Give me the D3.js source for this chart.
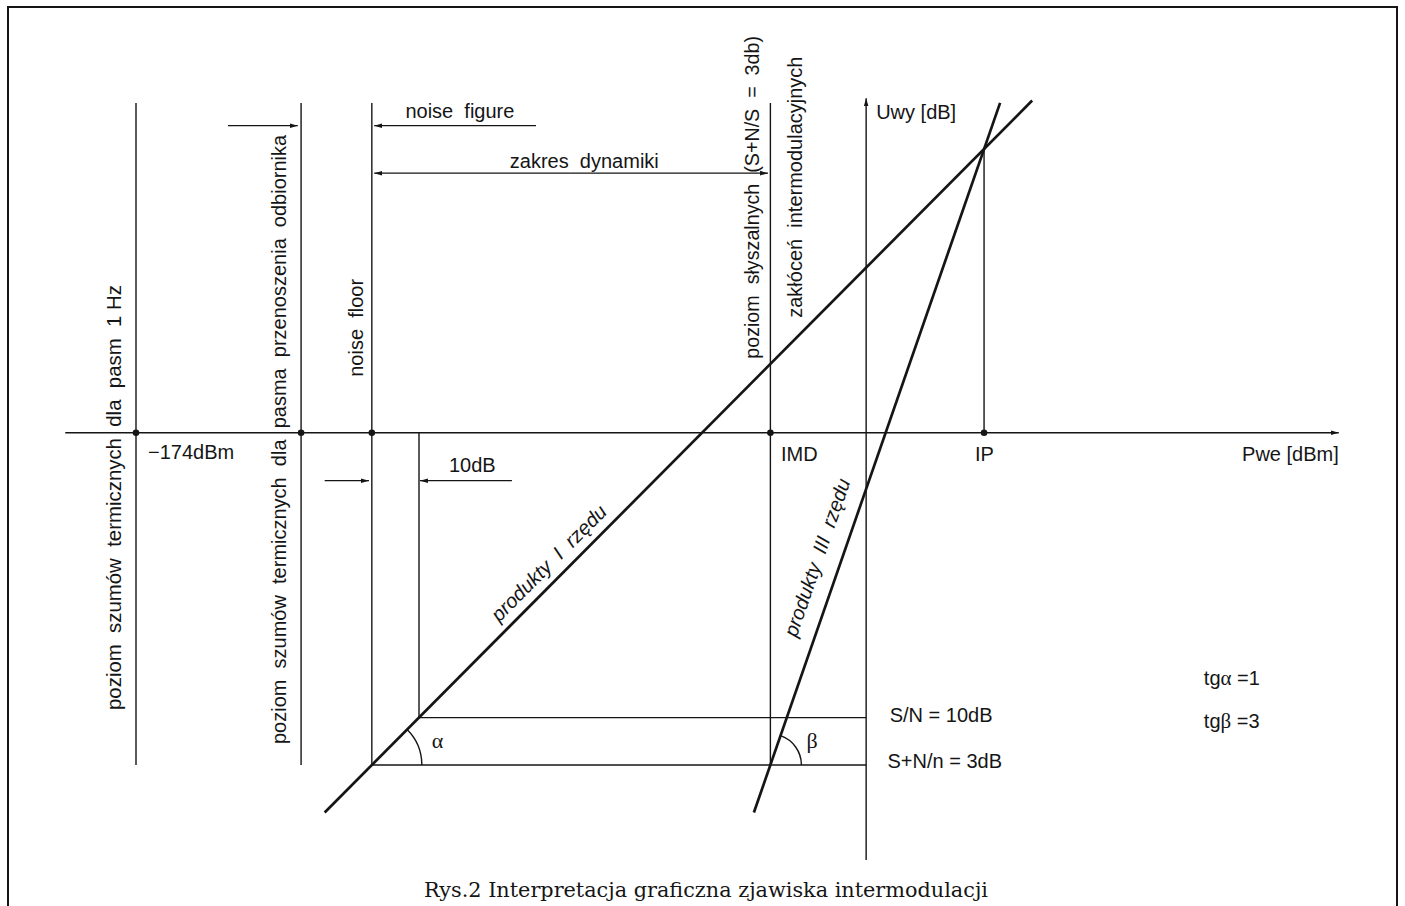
<!DOCTYPE html>
<html>
<head>
<meta charset="utf-8">
<script src="https://cdn.jsdelivr.net/npm/d3@7"></script>
<style>
    body { margin: 0; background: #fff; }
    svg text { font-family: "Liberation Sans", Arial, sans-serif; font-size: 20px; fill: #151515; white-space: pre; }
    .serif { font-family: "Liberation Serif", "Times New Roman", serif; }
</style>
</head>
<body>
<svg id="chart"></svg>
<script>
// values: Pwe [dBm] on x, Uwy [dB] on y
var pweAxis = [-189, 81];
var uwyAxisX = -19.2;
var uwyAxis = [-90, 70.5];

var markedLevels = [-174, -139, -124, -39.5, 5.8];   // dots on the Pwe axis
var levelLines = [
    {x: -174, from: -70, to: 69.5},
    {x: -139, from: -70, to: 69.5},
    {x: -124, from: -70, to: 69.5},
    {x: -114, from: -60, to: 0},
    {x: -39.5, from: -70, to: 69.5},
    {x: 5.8, from: 0, to: 59.8}
];
var snrLines = [
    {y: -60, from: -114, to: uwyAxisX},
    {y: -70, from: -124, to: uwyAxisX}
];
var firstOrder = [[-134, -80], [16, 70]];
var thirdOrder = [[-43, -80], [9.2, 69.5]];

// dimension arrows: tail -> head
var arrows = [
    {y: 64.7, tail: -154.5, head: -139.7},
    {y: 64.7, tail: -89.2, head: -123.5},
    {y: 54.7, tail: -81.8, head: -123.5},
    {y: 54.7, tail: -81.8, head: -40},
    {y: -10.1, tail: -134, head: -124.6},
    {y: -10.1, tail: -94.3, head: -113.8}
];

var width = 1405, height = 906;

var svg = d3.select("#chart")
    .attr("width", width)
    .attr("height", height);

var x = d3.scaleLinear().domain([-174, 6]).range([136, 985]);
var y = d3.scaleLinear().domain([-70, 60]).range([765, 148]);

var ink = "#151515";

svg.append("rect").attr("width", width).attr("height", height).attr("fill", "#fff");

// frame of the page (open at the bottom)
svg.append("path")
    .attr("d", "M8," + height + "V7H1397V" + height)
    .attr("fill", "none")
    .attr("stroke", ink)
    .attr("stroke-width", 2);

svg.append("defs").append("marker")
    .attr("id", "head")
    .attr("viewBox", "0 -3 8 6")
    .attr("refX", 8)
    .attr("refY", 0)
    .attr("markerWidth", 8)
    .attr("markerHeight", 6)
    .attr("markerUnits", "userSpaceOnUse")
    .attr("orient", "auto")
  .append("path")
    .attr("d", "M0,-2.3L8,0L0,2.3Z")
    .attr("fill", ink);

// axes
svg.append("line")
    .attr("x1", x(pweAxis[0])).attr("x2", x(pweAxis[1]))
    .attr("y1", y(0)).attr("y2", y(0))
    .attr("stroke", ink).attr("stroke-width", 1.6)
    .attr("marker-end", "url(#head)");

svg.append("line")
    .attr("x1", x(uwyAxisX)).attr("x2", x(uwyAxisX))
    .attr("y1", y(uwyAxis[0])).attr("y2", y(uwyAxis[1]))
    .attr("stroke", ink).attr("stroke-width", 1.4)
    .attr("marker-end", "url(#head)");

svg.selectAll(".level")
    .data(levelLines)
    .enter()
    .append("line")
    .attr("class", "level")
    .attr("x1", function(d) { return x(d.x); })
    .attr("x2", function(d) { return x(d.x); })
    .attr("y1", function(d) { return y(d.from); })
    .attr("y2", function(d) { return y(d.to); })
    .attr("stroke", ink)
    .attr("stroke-width", 1.4);

svg.selectAll(".snr")
    .data(snrLines)
    .enter()
    .append("line")
    .attr("class", "snr")
    .attr("x1", function(d) { return x(d.from); })
    .attr("x2", function(d) { return x(d.to); })
    .attr("y1", function(d) { return y(d.y); })
    .attr("y2", function(d) { return y(d.y); })
    .attr("stroke", ink)
    .attr("stroke-width", 1.3);

svg.selectAll(".arrow")
    .data(arrows)
    .enter()
    .append("line")
    .attr("class", "arrow")
    .attr("x1", function(d) { return x(d.tail); })
    .attr("x2", function(d) { return x(d.head); })
    .attr("y1", function(d) { return y(d.y); })
    .attr("y2", function(d) { return y(d.y); })
    .attr("stroke", ink)
    .attr("stroke-width", 1.3)
    .attr("marker-end", "url(#head)");

var line = d3.line()
    .x(function(d) { return x(d[0]); })
    .y(function(d) { return y(d[1]); });

svg.selectAll(".product")
    .data([firstOrder, thirdOrder])
    .enter()
    .append("path")
    .attr("class", "product")
    .attr("d", line)
    .attr("fill", "none")
    .attr("stroke", ink)
    .attr("stroke-width", 2.7);

svg.selectAll(".dot")
    .data(markedLevels)
    .enter()
    .append("circle")
    .attr("class", "dot")
    .attr("cx", function(d) { return x(d); })
    .attr("cy", y(0))
    .attr("r", 3.3)
    .attr("fill", ink);

// pixel angle of a product line
function angleOf(seg) {
    return Math.atan2(y(seg[0][1]) - y(seg[1][1]), x(seg[1][0]) - x(seg[0][0]));
}
function pointOn(seg, t) {
    return [x(seg[0][0]) + t * (x(seg[1][0]) - x(seg[0][0])),
            y(seg[0][1]) + t * (y(seg[1][1]) - y(seg[0][1]))];
}

// angle arcs alpha and beta
var arcs = [
    {cx: -124, cy: -70, r: 50, seg: firstOrder, label: "α", dx: 60, dy: -17},
    {cx: -39.5, cy: -70, r: 31, seg: thirdOrder, label: "β", dx: 36, dy: -17}
];
arcs.forEach(function(a) {
    var p = d3.path();
    var cx = x(a.cx), cy = y(a.cy);
    p.moveTo(cx + a.r, cy);
    p.arc(cx, cy, a.r, 0, -angleOf(a.seg), true);
    svg.append("path")
        .attr("d", p.toString())
        .attr("fill", "none")
        .attr("stroke", ink)
        .attr("stroke-width", 1.4);
    svg.append("text")
        .attr("class", "serif")
        .attr("x", cx + a.dx)
        .attr("y", cy + a.dy)
        .style("font-size", "22px")
        .text(a.label);
});

// labels along the product lines
var lineLabels = [
    {text: "produkty  I  rzędu", seg: firstOrder, t: 0.2567, off: 10},
    {text: "produkty  III  rzędu", seg: thirdOrder, t: 0.238, off: 17}
];
lineLabels.forEach(function(l) {
    var th = angleOf(l.seg);
    var p = pointOn(l.seg, l.t);
    var px = p[0] - l.off * Math.sin(th),
        py = p[1] - l.off * Math.cos(th);
    svg.append("text")
        .attr("transform", "translate(" + px + "," + py + ") rotate(" + (-th * 180 / Math.PI) + ")")
        .style("font-style", "italic")
        .text(l.text);
});

// vertical captions
var sideLabels = [
    {text: "poziom  szumów  termicznych  dla  pasm  1 Hz", at: [-174, -70], dx: -15, dy: -55, size: 20.4},
    {text: "poziom  szumów  termicznych  dla  pasma  przenoszenia  odbiornika", at: [-139, -70], dx: -15, dy: -21, size: 20},
    {text: "noise  floor", at: [-124, 0], dx: -9, dy: -56, size: 20},
    {text: "poziom  słyszalnych  (S+N/S  =  3db)", at: [-39.5, 0], dx: -11, dy: -74, size: 19.7},
    {text: "zakłóceń  intermodulacyjnych", at: [-39.5, 0], dx: 32, dy: -115, size: 20}
];
svg.selectAll(".side")
    .data(sideLabels)
    .enter()
    .append("text")
    .attr("class", "side")
    .attr("transform", function(d) {
        return "translate(" + (x(d.at[0]) + d.dx) + "," + (y(d.at[1]) + d.dy) + ") rotate(-90)";
    })
    .style("font-size", function(d) { return d.size + "px"; })
    .text(function(d) { return d.text; });

var labels = [
    {text: "noise  figure", at: [-124, 64.7], dx: 33.6, dy: -7.4},
    {text: "zakres  dynamiki", at: [-124, 54.7], dx: 138, dy: -5},
    {text: "Uwy [dB]", at: [uwyAxisX, 70.5], dx: 10, dy: 21},
    {text: "Pwe [dBm]", at: [81, 0], dx: 0, dy: 28, anchor: "end"},
    {text: "−174dBm", at: [-174, 0], dx: 12, dy: 26},
    {text: "IMD", at: [-39.5, 0], dx: 10.6, dy: 28},
    {text: "IP", at: [5.8, 0], dx: -9, dy: 28},
    {text: "10dB", at: [-114, -10.1], dx: 30, dy: -8.7},
    {text: "S/N = 10dB", at: [uwyAxisX, -60], dx: 23.5, dy: 4.5},
    {text: "S+N/n = 3dB", at: [uwyAxisX, -70], dx: 21.4, dy: 3}
];
svg.selectAll(".label")
    .data(labels)
    .enter()
    .append("text")
    .attr("class", "label")
    .attr("x", function(d) { return x(d.at[0]) + d.dx; })
    .attr("y", function(d) { return y(d.at[1]) + d.dy; })
    .attr("text-anchor", function(d) { return d.anchor || "start"; })
    .text(function(d) { return d.text; });

// tangent notes
var notes = [
    {sym: "α", val: " =1", at: [52.4, -53.1]},
    {sym: "β", val: " =3", at: [52.4, -62.2]}
];
notes.forEach(function(n) {
    var t = svg.append("text")
        .attr("x", x(n.at[0]))
        .attr("y", y(n.at[1]));
    t.append("tspan").text("tg");
    t.append("tspan").attr("class", "serif").style("font-size", "21px").text(n.sym);
    t.append("tspan").text(n.val);
});

svg.append("text")
    .attr("x", 706)
    .attr("y", 897)
    .attr("text-anchor", "middle")
    .attr("textLength", 564)
    .attr("lengthAdjust", "spacingAndGlyphs")
    .style("font-family", "'DejaVu Serif', 'Liberation Serif', serif")
    .style("font-size", "20px")
    .text("Rys.2 Interpretacja graficzna zjawiska intermodulacji");
</script>
</body>
</html>
